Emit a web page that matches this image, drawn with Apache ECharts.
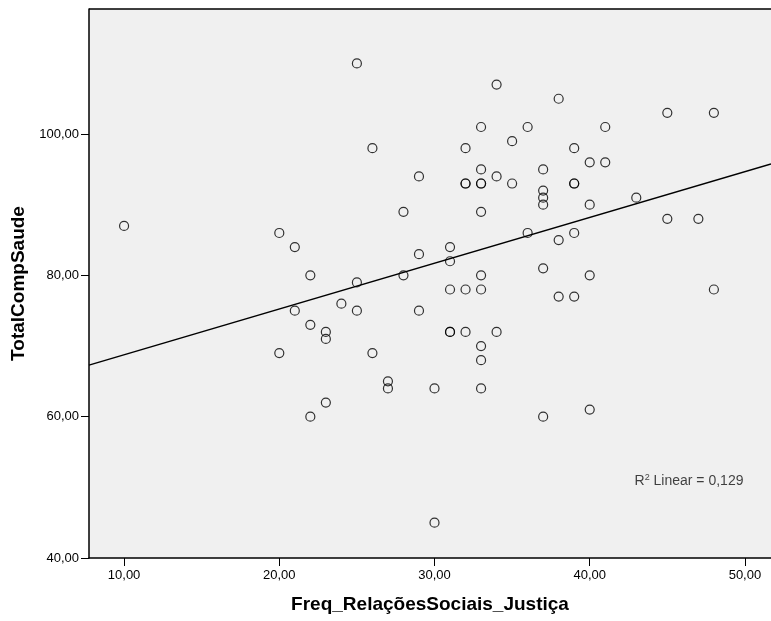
<!DOCTYPE html>
<html>
<head>
<meta charset="utf-8">
<script src="https://cdn.jsdelivr.net/npm/echarts@6/dist/echarts.min.js"></script>
<style>
html,body{margin:0;padding:0;background:#fff;}
#chart{width:771px;height:621px;}
</style>
</head>
<body>
<div id="chart"></div>
<script>
// Freq_RelaçõesSociais_Justiça
var xValues = [10,20,21,22,25,34,33,36,35,26,32,29,33,34,32,32,33,33,35,28,33,36,31,29,31,25,28,33,31,32,33,24,
  38,45,48,41,39,40,41,37,39,39,37,37,37,43,40,45,47,38,39,37,40,48,38,39,
  21,22,20,22,25,29,23,23,26,31,31,32,34,33,33,27,27,30,33,23,30,37,40];
// TotalCompSaude
var yValues = [87,86,84,80,110,107,101,101,99,98,98,94,95,94,93,93,93,93,93,89,89,86,84,83,82,79,80,80,78,78,78,76,
  105,103,103,101,98,96,96,95,93,93,92,91,90,91,90,88,88,85,86,81,80,78,77,77,
  75,73,69,60,75,75,72,71,69,72,72,72,72,70,68,65,64,64,64,62,45,60,61];
var xTicks = [10,20,30,40,50];
var yTicks = [40,60,80,100];
var xRange = [7.74, 51.68];
var yRange = [40, 117.7];
var r2Text = '0,129';

var pts = xValues.map(function(x,i){return [x, yValues[i]];});
// least squares fit
var n = pts.length, sx=0, sy=0, sxx=0, sxy=0;
pts.forEach(function(p){sx+=p[0];sy+=p[1];sxx+=p[0]*p[0];sxy+=p[0]*p[1];});
var slope = (n*sxy - sx*sy)/(n*sxx - sx*sx);
var icpt = (sy - slope*sx)/n;
var fitLine = [[xRange[0], icpt+slope*xRange[0]],[xRange[1], icpt+slope*xRange[1]]];

function fmt(v){return v.toFixed(2).replace('.', ',');}

var chart = echarts.init(document.getElementById('chart'));
chart.setOption({
  animation:false,
  backgroundColor:'#ffffff',
  textStyle:{fontFamily:'Liberation Sans, Arial, sans-serif'},
  grid:{left:89,right:0,top:9,bottom:63,show:true,backgroundColor:'#f0f0f0',borderWidth:0},
  xAxis:{
    type:'value', min:xRange[0], max:xRange[1],
    name:'Freq_RelaçõesSociais_Justiça', nameLocation:'middle', nameGap:37,
    nameTextStyle:{fontSize:19,fontWeight:'bold',color:'#000'},
    axisLine:{show:true,onZero:false,lineStyle:{color:'#000',width:1.5}},
    axisTick:{show:true,length:8,lineStyle:{color:'#000',width:1},customValues:xTicks},
    axisLabel:{customValues:xTicks,formatter:fmt,fontSize:13,color:'#000',margin:11},
    splitLine:{show:false}
  },
  yAxis:{
    type:'value', min:yRange[0], max:yRange[1],
    name:'TotalCompSaude', nameLocation:'middle', nameGap:60, nameRotate:90,
    nameTextStyle:{fontSize:19,fontWeight:'bold',color:'#000'},
    axisLine:{show:true,onZero:false,lineStyle:{color:'#000',width:1.5}},
    axisTick:{show:true,length:8,lineStyle:{color:'#000',width:1},customValues:yTicks},
    axisLabel:{customValues:yTicks,formatter:fmt,fontSize:13,color:'#000',margin:10},
    splitLine:{show:false}
  },
  graphic:[
    {type:'line',shape:{x1:89,y1:9,x2:771,y2:9},style:{stroke:'#000',lineWidth:1.5},silent:true}
  ],
  series:[
    {
      type:'line', data:fitLine, symbol:'none', silent:true,
      lineStyle:{color:'#000',width:1.5}, z:3
    },
    {
      type:'scatter', data:pts, symbol:'circle', symbolSize:9,
      itemStyle:{color:'rgba(0,0,0,0)',borderColor:'#000',borderWidth:1.2}, z:4
    },
    {
      type:'scatter', data:[[xRange[1], yRange[0]]], symbolSize:0, silent:true,
      label:{show:true, position:'inside', formatter:'{r|R}{s|2}{r| Linear = '+r2Text+'}',
        offset:[-82,-77],
        rich:{r:{fontSize:14,color:'#111'},s:{fontSize:9,color:'#111',verticalAlign:'top',padding:[0,0,6,0]}}}
    }
  ]
});
</script>
</body>
</html>
